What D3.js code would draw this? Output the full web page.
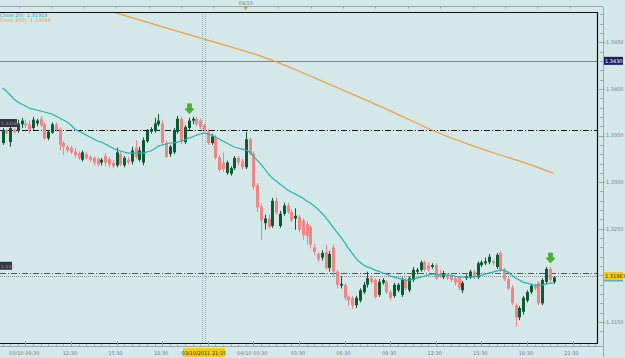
<!DOCTYPE html>
<html>
<head>
<meta charset="utf-8">
<script src="https://cdn.jsdelivr.net/npm/d3@7"></script>
<style>
body { margin: 0; background: #d4e8ea; }
svg { display: block; font-family: "DejaVu Sans", sans-serif; }
</style>
</head>
<body>
<svg id="chart" width="625" height="358"></svg>
<script>
// M15 bars, first bar 03/10/2011 08:00
const barStart = new Date(2011, 9, 3, 8, 0)

const opens = [1.3342,1.3356,1.3343,1.3356,1.3355,1.3362,1.3363,1.3362,1.3358,1.3363,
1.3368,1.3362,1.3347,1.3353,1.3362,1.3357,1.3342,1.3338,1.3337,1.3333,
1.3331,1.3324,1.3330,1.3327,1.3326,1.3325,1.3321,1.3328,1.3325,1.3321,
1.3318,1.3330,1.3318,1.3324,1.3322,1.3337,1.3324,1.3321,1.3344,1.3354,
1.3355,1.3362,1.3363,1.3342,1.3330,1.3332,1.3354,1.3368,1.3343,1.3358,
1.3366,1.3368,1.3366,1.3361,1.3354,1.3342,1.3348,1.3327,1.3321,1.3310,
1.3309,1.3315,1.3326,1.3322,1.3316,1.3346,1.3331,1.3297,1.3274,1.3256,
1.3261,1.3253,1.3280,1.3253,1.3266,1.3275,1.3268,1.3261,1.3263,1.3259,
1.3255,1.3252,1.3230,1.3223,1.3219,1.3225,1.3208,1.3230,1.3204,1.3189,
1.3190,1.3177,1.3176,1.3168,1.3173,1.3182,1.3190,1.3197,1.3195,1.3179,
1.3192,1.3193,1.3182,1.3178,1.3184,1.3179,1.3195,1.3184,1.3195,1.3204,
1.3206,1.3214,1.3211,1.3209,1.3211,1.3202,1.3198,1.3200,1.3198,1.3197,
1.3197,1.3184,1.3197,1.3198,1.3204,1.3198,1.3211,1.3213,1.3214,1.3215,
1.3209,1.3224,1.3206,1.3196,1.3187,1.3168,1.3155,1.3161,1.3173,1.3182,
1.3189,1.3192,1.3170,1.3193,1.3207,1.3193]

const highs = [1.3358,1.3357,1.3360,1.3358,1.3367,1.3369,1.3367,1.3366,1.3370,1.3368,
1.3371,1.3364,1.3356,1.3364,1.3364,1.3359,1.3344,1.3340,1.3339,1.3337,
1.3333,1.3334,1.3332,1.3329,1.3328,1.3327,1.3326,1.3331,1.3327,1.3324,
1.3337,1.3333,1.3328,1.3327,1.3338,1.3345,1.3338,1.3348,1.3357,1.3359,
1.3369,1.3373,1.3367,1.3345,1.3340,1.3358,1.3371,1.3370,1.3361,1.3369,
1.3370,1.3370,1.3368,1.3363,1.3357,1.3352,1.3351,1.3329,1.3332,1.3323,
1.3317,1.3328,1.3328,1.3325,1.3354,1.3348,1.3333,1.3299,1.3277,1.3265,
1.3265,1.3283,1.3284,1.3269,1.3278,1.3278,1.3271,1.3272,1.3265,1.3261,
1.3258,1.3254,1.3234,1.3225,1.3227,1.3233,1.3226,1.3233,1.3206,1.3199,
1.3192,1.3179,1.3178,1.3178,1.3186,1.3193,1.3204,1.3199,1.3197,1.3196,
1.3197,1.3195,1.3184,1.3192,1.3192,1.3198,1.3197,1.3199,1.3209,1.3208,
1.3216,1.3216,1.3214,1.3213,1.3213,1.3206,1.3205,1.3202,1.3200,1.3199,
1.3199,1.3194,1.3201,1.3206,1.3206,1.3215,1.3216,1.3219,1.3223,1.3217,
1.3224,1.3226,1.3208,1.3198,1.3190,1.3170,1.3167,1.3178,1.3184,1.3191,
1.3191,1.3194,1.3197,1.3209,1.3209,1.3199]

const lows = [1.3340,1.3351,1.3338,1.3352,1.3353,1.3358,1.3358,1.3352,1.3356,1.3360,
1.3359,1.3345,1.3345,1.3352,1.3354,1.3334,1.3329,1.3332,1.3330,1.3326,
1.3324,1.3322,1.3324,1.3322,1.3318,1.3317,1.3318,1.3317,1.3316,1.3315,
1.3316,1.3317,1.3316,1.3319,1.3319,1.3325,1.3322,1.3318,1.3342,1.3352,
1.3353,1.3360,1.3340,1.3326,1.3327,1.3330,1.3352,1.3341,1.3341,1.3356,
1.3362,1.3360,1.3357,1.3354,1.3340,1.3340,1.3324,1.3311,1.3311,1.3308,
1.3307,1.3313,1.3318,1.3313,1.3314,1.3329,1.3292,1.3268,1.3238,1.3249,
1.3250,1.3251,1.3265,1.3251,1.3264,1.3266,1.3257,1.3249,1.3246,1.3238,
1.3233,1.3229,1.3222,1.3214,1.3216,1.3206,1.3204,1.3199,1.3186,1.3186,
1.3173,1.3167,1.3164,1.3165,1.3171,1.3180,1.3187,1.3191,1.3175,1.3177,
1.3190,1.3180,1.3173,1.3176,1.3182,1.3177,1.3184,1.3182,1.3193,1.3201,
1.3204,1.3204,1.3204,1.3207,1.3195,1.3197,1.3196,1.3195,1.3193,1.3189,
1.3184,1.3181,1.3195,1.3196,1.3196,1.3196,1.3209,1.3211,1.3212,1.3211,
1.3207,1.3204,1.3194,1.3184,1.3168,1.3145,1.3152,1.3158,1.3171,1.3180,
1.3184,1.3168,1.3168,1.3191,1.3193,1.3191]

const closes = [1.3356,1.3353,1.3358,1.3354,1.3363,1.3366,1.3361,1.3356,1.3367,1.3366,
1.3361,1.3347,1.3354,1.3362,1.3356,1.3340,1.3338,1.3334,1.3332,1.3329,
1.3326,1.3332,1.3326,1.3324,1.3321,1.3319,1.3324,1.3321,1.3319,1.3317,
1.3332,1.3319,1.3326,1.3321,1.3334,1.3327,1.3334,1.3345,1.3355,1.3357,
1.3363,1.3366,1.3342,1.3327,1.3338,1.3356,1.3368,1.3343,1.3359,1.3366,
1.3368,1.3362,1.3359,1.3356,1.3342,1.3349,1.3326,1.3313,1.3314,1.3321,
1.3315,1.3326,1.3321,1.3316,1.3346,1.3331,1.3295,1.3273,1.3259,1.3261,
1.3252,1.3280,1.3267,1.3266,1.3275,1.3268,1.3259,1.3264,1.3249,1.3243,
1.3242,1.3233,1.3225,1.3217,1.3224,1.3208,1.3223,1.3204,1.3190,1.3191,
1.3176,1.3173,1.3168,1.3176,1.3184,1.3190,1.3197,1.3193,1.3177,1.3193,
1.3195,1.3182,1.3176,1.3190,1.3190,1.3195,1.3186,1.3197,1.3206,1.3206,
1.3214,1.3206,1.3206,1.3211,1.3197,1.3199,1.3202,1.3197,1.3195,1.3192,
1.3187,1.3192,1.3199,1.3204,1.3198,1.3213,1.3214,1.3215,1.3220,1.3213,
1.3222,1.3206,1.3196,1.3186,1.3170,1.3155,1.3165,1.3176,1.3182,1.3189,
1.3186,1.3170,1.3195,1.3207,1.3195,1.3198]

// MA(Close,20), one value per bar
const ma20 = [1.34010,1.33978,1.33935,1.33892,1.33860,1.33838,1.33817,1.33795,1.33784,1.33774,
1.33763,1.33752,1.33742,1.33731,1.33709,1.33688,1.33666,1.33645,1.33613,1.33570,
1.33548,1.33527,1.33505,1.33484,1.33463,1.33441,1.33430,1.33409,1.33387,1.33366,
1.33345,1.33334,1.33323,1.33312,1.33312,1.33312,1.33312,1.33312,1.33323,1.33334,
1.33355,1.33387,1.33398,1.33409,1.33420,1.33420,1.33430,1.33441,1.33452,1.33473,
1.33484,1.33505,1.33516,1.33527,1.33516,1.33505,1.33484,1.33463,1.33441,1.33420,
1.33398,1.33377,1.33366,1.33355,1.33345,1.33323,1.33280,1.33237,1.33194,1.33141,
1.33087,1.33044,1.33012,1.32980,1.32948,1.32915,1.32894,1.32872,1.32851,1.32830,
1.32797,1.32776,1.32744,1.32711,1.32669,1.32626,1.32572,1.32518,1.32465,1.32411,
1.32357,1.32293,1.32239,1.32186,1.32143,1.32111,1.32089,1.32078,1.32057,1.32046,
1.32025,1.32014,1.31993,1.31982,1.31971,1.31960,1.31950,1.31950,1.31960,1.31971,
1.31982,1.31993,1.32003,1.32014,1.32014,1.32003,1.32003,1.32003,1.32003,1.31993,
1.31982,1.31982,1.31982,1.31982,1.31982,1.31993,1.32003,1.32014,1.32025,1.32035,
1.32046,1.32057,1.32057,1.32035,1.32003,1.31971,1.31950,1.31928,1.31917,1.31907,
1.31896,1.31896,1.31896,1.31907,1.31917,1.31918]

// MA(Close,200), read at these bars
const ma200Bars = [28, 39, 53, 70, 78, 91, 104, 112, 123, 131, 139, 145]
const ma200 = [1.34838, 1.34704, 1.34533, 1.34336, 1.34189, 1.33964, 1.33731, 1.33569, 1.33398, 1.33290, 1.33191, 1.33094]

const arrowBars = [49, 144]

const priceTicks = [1.3150, 1.3200, 1.3250, 1.3300, 1.3350, 1.3400, 1.3450]
const timeTicks = ["2011-10-03 09:30","2011-10-03 12:30","2011-10-03 15:30","2011-10-03 18:30","2011-10-03 21:30",
  "2011-10-04 00:30","2011-10-04 03:30","2011-10-04 06:30","2011-10-04 09:30","2011-10-04 12:30",
  "2011-10-04 15:30","2011-10-04 18:30","2011-10-04 21:30"]
const timeLabels = ["03/10 09:30","12:30","15:30","18:30","21:30","04/10 00:30","03:30","06:30","09:30","12:30","15:30","18:30","21:30"]

const levelLine = 1.34301      // blue horizontal line
const dashLevels = [1.33559, 1.32028]
const dashLabels = ["1.3356", "1.320"]
const bid = 1.31983
const cursorTime = "2011-10-03 21:15"
const cursorLabel = "03/10/2011 21:15"
const dayMark = "2011-10-04 00:00"

const parse = d3.timeParse("%Y-%m-%d %H:%M")
const barTime = i => new Date(barStart.getTime() + i * 15 * 60000)

const svg = d3.select("#chart")
const W = 625, H = 358
const plotRight = 597, plotTop = 12, plotBottom = 343

const x = d3.scaleTime().domain([barTime(0), barTime(145)]).range([2.5, 553.5])
const y = d3.scaleLinear().domain([1.3150, 1.3450]).range([322, 42.3])

svg.append("rect").attr("width", W).attr("height", H).attr("fill", "#d4e8ea")

svg.append("defs").append("clipPath").attr("id", "plot")
  .append("rect").attr("x", 0).attr("y", plotTop).attr("width", plotRight).attr("height", plotBottom - plotTop)

const plot = svg.append("g").attr("clip-path", "url(#plot)")

// horizontal levels
plot.append("line").attr("x1", 0).attr("x2", plotRight)
  .attr("y1", Math.round(y(levelLine)) + 0.5).attr("y2", Math.round(y(levelLine)) + 0.5)
  .attr("stroke", "#7483ad").attr("stroke-width", 1)
dashLevels.forEach((p, k) => {
  plot.append("line").attr("x1", 0).attr("x2", plotRight)
    .attr("y1", Math.round(y(p)) + 0.5).attr("y2", Math.round(y(p)) + 0.5)
    .attr("stroke", k == 0 ? "#111" : "#555").attr("stroke-width", 1)
    .attr("stroke-dasharray", "6,2,1,2")
})
plot.append("line").attr("x1", 0).attr("x2", plotRight)
  .attr("y1", Math.round(y(bid)) - 0.5).attr("y2", Math.round(y(bid)) - 0.5)
  .attr("stroke", "#8a8a8a").attr("stroke-width", 1).attr("stroke-dasharray", "1,1")

// cursor (crosshair) vertical
const cx = x(parse(cursorTime))
;[-1.5, 1.5].forEach(d => {
  plot.append("line").attr("x1", Math.round(cx + d) + 0.5).attr("x2", Math.round(cx + d) + 0.5)
    .attr("y1", plotTop).attr("y2", plotBottom)
    .attr("stroke", "#9aa").attr("stroke-width", 1).attr("stroke-dasharray", "1,1")
})

// candles
const bars = d3.range(opens.length).map(i => ({
  t: barTime(i), o: opens[i], h: highs[i], l: lows[i], c: closes[i]
}))
const candle = plot.append("g").selectAll("g").data(bars).enter().append("g")
  .attr("fill", d => d.c >= d.o ? "#0c5a31" : "#f08585")
  .attr("stroke", d => d.c >= d.o ? "#0c5a31" : "#f08585")
candle.append("line")
  .attr("x1", d => Math.round(x(d.t)) + 0.5).attr("x2", d => Math.round(x(d.t)) + 0.5)
  .attr("y1", d => y(d.h)).attr("y2", d => y(d.l)).attr("stroke-width", 1)
candle.append("rect")
  .attr("x", d => Math.round(x(d.t)) - 1).attr("width", 3)
  .attr("y", d => y(Math.max(d.o, d.c)))
  .attr("height", d => Math.max(1, Math.abs(y(d.o) - y(d.c))))
  .attr("stroke", "none")

// moving averages
const line = d3.line().x(d => x(d[0])).y(d => y(d[1]))
plot.append("path").datum(ma20.map((v, i) => [barTime(i), v]))
  .attr("d", line).attr("fill", "none").attr("stroke", "#22b3ab").attr("stroke-width", 1.2)
plot.append("path").datum(ma200.map((v, i) => [barTime(ma200Bars[i]), v]))
  .attr("d", d3.line().x(d => x(d[0])).y(d => y(d[1])).curve(d3.curveBasis))
  .attr("fill", "none").attr("stroke", "#eca043").attr("stroke-width", 1.2)

// signal arrows
arrowBars.forEach(i => {
  const ax = Math.round(x(barTime(i))) + 0.5
  const tip = y(highs[i]) - 4
  plot.append("path")
    .attr("d", `M${ax - 2},${tip - 10} h4 v5 h2.5 L${ax},${tip} L${ax - 4.5},${tip - 5} h2.5 Z`)
    .attr("fill", "#46b52a").attr("stroke", "#2e8a1c").attr("stroke-width", 0.5)
})

// frame
svg.append("path").attr("d", `M0,${plotTop + 0.5} H${plotRight + 0.5} V${plotBottom + 0.5} H0`)
  .attr("fill", "none").attr("stroke", "#111").attr("stroke-width", 1.2)

// top ruler
svg.append("line").attr("x1", 0).attr("x2", 603).attr("y1", 6.5).attr("y2", 6.5).attr("stroke", "#9aa")
d3.range(19, 597, 32.4).forEach(t => {
  svg.append("line").attr("x1", Math.round(t) + 0.5).attr("x2", Math.round(t) + 0.5)
    .attr("y1", 6.5).attr("y2", 8.5).attr("stroke", "#9aa")
})
const dx = x(parse(dayMark))
svg.append("text").attr("x", dx).attr("y", 5).attr("text-anchor", "middle")
  .attr("font-size", 5).attr("fill", "#777").text("04/10")
svg.append("path").attr("d", `M${dx - 2},7 h4 l-2,3.5 Z`).attr("fill", "#d9a21f")

// right price axis
svg.append("line").attr("x1", 603.5).attr("x2", 603.5).attr("y1", 7).attr("y2", 357).attr("stroke", "#9aa")
d3.range(1.3140, 1.3501, 0.001).forEach(p => {
  const yy = Math.round(y(p)) + 0.5
  if (yy < 8 || yy > 345) return
  svg.append("line").attr("x1", 600).attr("x2", 603.5).attr("y1", yy).attr("y2", yy).attr("stroke", "#9aa")
})
priceTicks.forEach(p => {
  svg.append("line").attr("x1", 599).attr("x2", 605).attr("y1", Math.round(y(p)) + 0.5).attr("y2", Math.round(y(p)) + 0.5).attr("stroke", "#9aa")
  // labels hidden behind the bid tag are not drawn
  if (Math.abs(y(p) - y(bid)) < 8) return
  svg.append("text").attr("x", 606).attr("y", y(p) + 1.8)
    .attr("font-size", 5).attr("fill", "#7a8080").text(d3.format(".4f")(p))
})

// price labels on the right
function priceTag(p, dy, bg, fg, txt) {
  const yy = y(p) + dy
  svg.append("rect").attr("x", 604).attr("y", yy - 4).attr("width", 19).attr("height", 8).attr("fill", bg)
  svg.append("text").attr("x", 605).attr("y", yy + 1.8).attr("font-size", 5).attr("fill", fg).text(txt)
}
priceTag(levelLine, 0, "#1b1f66", "#fff", d3.format(".5f")(levelLine))
svg.append("rect").attr("x", 604).attr("y", y(bid) + 2).attr("width", 19).attr("height", 2.5).attr("fill", "#5aa6e6")
priceTag(bid, -1, "#f3cc16", "#333", d3.format(".5f")(bid))

// left level tags
dashLevels.forEach((p, k) => {
  const w = k == 0 ? 17 : 12
  svg.append("rect").attr("x", 0).attr("y", y(p) - 11).attr("width", w).attr("height", 8).attr("fill", "#33363c")
  svg.append("text").attr("x", 1).attr("y", y(p) - 5.2).attr("font-size", 4.5).attr("fill", "#9a9a9a").text(dashLabels[k])
})

// bottom time axis
svg.append("line").attr("x1", 0).attr("x2", 603).attr("y1", 346.5).attr("y2", 346.5).attr("stroke", "#9aa")
d3.timeMinute.every(30).range(x.invert(0), x.invert(603)).forEach(t => {
  const xx = Math.round(x(t)) + 0.5
  svg.append("line").attr("x1", xx).attr("x2", xx).attr("y1", 344.5).attr("y2", 346.5).attr("stroke", "#9aa")
})
const cx0 = cx
timeTicks.forEach((s, k) => {
  const xx = x(parse(s))
  svg.append("line").attr("x1", Math.round(xx) + 0.5).attr("x2", Math.round(xx) + 0.5)
    .attr("y1", 341).attr("y2", 346.5).attr("stroke", "#9aa")
  // label covered by the cursor time tag is not drawn
  if (Math.abs(xx - cx0) < 25) return
  svg.append("text").attr("x", xx - 1).attr("y", 354.5).attr("text-anchor", "middle")
    .attr("font-size", 5).attr("fill", "#7a8080").text(timeLabels[k])
})
svg.append("rect").attr("x", cx - 21).attr("y", 348).attr("width", 42).attr("height", 9).attr("fill", "#f3cc16")
svg.append("text").attr("x", cx).attr("y", 354.5).attr("text-anchor", "middle")
  .attr("font-size", 5).attr("fill", "#333").text(cursorLabel)

// indicator legend
svg.append("text").attr("x", 0).attr("y", 16.5).attr("font-size", 5).attr("fill", "#22b3ab")
  .text("Close,20): " + d3.format(".5f")(ma20[ma20.length - 1]))
svg.append("text").attr("x", 0).attr("y", 21.5).attr("font-size", 5).attr("fill", "#eca043")
  .text("Close,200): " + d3.format(".5f")(ma200[ma200.length - 1]))
</script>
</body>
</html>
